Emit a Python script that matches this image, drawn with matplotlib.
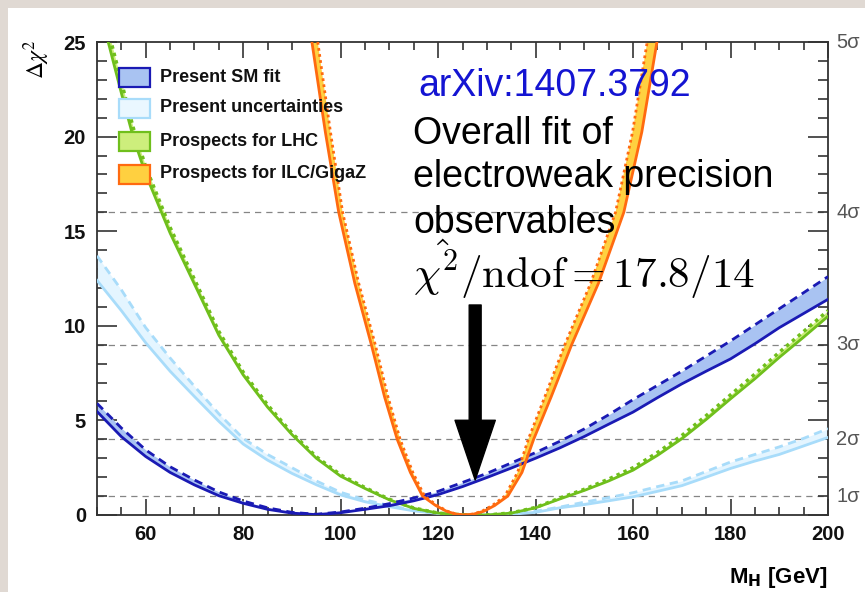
import numpy as np
import matplotlib.pyplot as plt
import matplotlib.transforms as mtransforms
from matplotlib.patches import Rectangle
from matplotlib.ticker import MultipleLocator

plt.rcParams['font.family'] = ['Liberation Sans', 'DejaVu Sans']

# ---- data ----
mh = [50, 55, 60, 65, 70, 75, 80, 85, 90, 95, 100, 105, 110, 115, 120, 125,
      130, 135, 140, 145, 150, 155, 160, 165, 170, 175, 180, 185, 190, 195, 200]

# Present SM fit (solid / dashed)
sm_fit = [5.47, 4.14, 3.09, 2.25, 1.59, 1.02, 0.62, 0.30, 0.10, 0.02, 0.12, 0.30,
          0.49, 0.75, 1.08, 1.50, 1.98, 2.48, 3.00, 3.55, 4.15, 4.80, 5.44, 6.20,
          6.93, 7.60, 8.25, 9.05, 9.90, 10.65, 11.40]
sm_fit_dash = [5.90, 4.60, 3.44, 2.55, 1.85, 1.22, 0.74, 0.38, 0.14, 0.04, 0.16, 0.36,
               0.60, 0.90, 1.25, 1.72, 2.20, 2.75, 3.30, 3.90, 4.55, 5.30, 6.10, 6.85,
               7.60, 8.40, 9.20, 10.05, 10.90, 11.75, 12.60]

# Present uncertainties
unc = [12.4, 10.8, 9.1, 7.6, 6.26, 4.95, 3.75, 2.9, 2.2, 1.6, 1.06, 0.7, 0.44, 0.22,
       0.08, 0.01, 0.0, 0.04, 0.14, 0.38, 0.55, 0.75, 0.96, 1.25, 1.55, 2.0, 2.46,
       2.85, 3.2, 3.65, 4.1]
unc_dash = [13.7, 11.9, 9.9, 8.3, 6.8, 5.35, 4.05, 3.2, 2.5, 1.8, 1.2, 0.8, 0.5, 0.25,
            0.09, 0.01, 0.0, 0.06, 0.2, 0.42, 0.68, 0.92, 1.18, 1.5, 1.8, 2.3, 2.8,
            3.2, 3.6, 4.05, 4.56]

# Prospects for LHC
lhc_x = [52.3, 55, 57.4, 60, 65, 70, 75, 80, 85, 90, 95, 100, 105, 110, 115, 120, 125,
         130, 135, 140, 145, 150, 155, 160, 165, 170, 175, 180, 185, 190, 195, 200]
lhc = [25.0, 22.3, 20.0, 18.0, 14.9, 12.2, 9.5, 7.4, 5.7, 4.25, 3.0, 2.05, 1.4, 0.8,
       0.35, 0.1, 0.01, 0.0, 0.1, 0.38, 0.85, 1.3, 1.8, 2.37, 3.15, 4.03, 5.05, 6.14,
       7.2, 8.33, 9.4, 10.5]
lhc_dot = [25.6, 22.9, 20.5, 18.4, 15.2, 12.45, 9.7, 7.55, 5.82, 4.33, 3.08, 2.12, 1.45,
           0.83, 0.37, 0.1, 0.01, 0.0, 0.11, 0.4, 0.9, 1.36, 1.9, 2.5, 3.3, 4.2, 5.25,
           6.35, 7.45, 8.6, 9.7, 10.8]

# Prospects for ILC/GigaZ (points along the curve)
ilc_y = [25, 20.25, 16, 12.25, 9, 6.25, 4, 2.25, 1, 0.5, 0.2, 0.05, 0,
         0.05, 0.2, 0.5, 1, 2.25, 4, 6.25, 9, 12.25, 16, 20.25, 25]
ilc_x = [94.1, 96.85, 99.6, 102.9, 106.3, 109.0, 111.6, 114.3, 116.8, 119.5, 121.7,
         123.6, 125.4, 127.3, 129.4, 131.6, 134.3, 137.2, 139.6, 143.2, 147.4, 152.9,
         158.1, 161.8, 164.9]
ilc_dot_x = [95.3, 97.9, 100.4, 103.7, 107.1, 109.7, 112.2, 114.8, 117.2, 119.8, 121.9,
             123.7, 125.4, 127.2, 129.0, 131.1, 133.7, 136.3, 138.5, 141.9, 146.0, 151.3,
             156.4, 159.9, 162.9]

sigma_levels = [1, 4, 9, 16, 25]
sigma_labels = ['1σ', '2σ', '3σ', '4σ', '5σ']

legend_labels = ['Present SM fit', 'Present uncertainties',
                 'Prospects for LHC', 'Prospects for ILC/GigaZ']

# colours
blue, blue_fill = '#1a1ab4', '#a9c3f2'
lblue, lblue_fill = '#a8dcfa', '#e4f5ff'
green, green_fill = '#6fbf1c', '#cdee7c'
orange, orange_fill = '#ff6a10', '#ffd040'

W, H = 865, 592
fig = plt.figure(figsize=(W / 100, H / 100), dpi=100, facecolor='#e0d9d3')
fig.add_artist(Rectangle((8 / W, 0), 1, 1 - 8 / H, transform=fig.transFigure,
                         facecolor='white', edgecolor='none', zorder=-5))

ax = fig.add_axes([97 / W, 1 - 515 / H, 731 / W, 473 / H])
ax.set_facecolor('white')

for lv in sigma_levels[:-1]:
    ax.axhline(lv, color='#858585', ls=(0, (5, 4)), lw=0.9, zorder=1)

# bands
ax.fill_between(mh, unc, unc_dash, color=lblue_fill, lw=0, zorder=2)
ax.fill_between(mh, sm_fit, sm_fit_dash, color=blue_fill, lw=0, zorder=2)
ax.fill_between(lhc_x, lhc, lhc_dot, color=green_fill, lw=0, zorder=2)
ax.fill(ilc_x + ilc_dot_x[::-1], ilc_y + ilc_y[::-1], color=orange_fill, lw=0, zorder=2)

# lines
ax.plot(mh, unc, color=lblue, lw=2, zorder=3)
ax.plot(mh, unc_dash, color=lblue, lw=2, ls=(0, (3, 2)), zorder=3)
ax.plot(lhc_x, lhc, color=green, lw=2, zorder=3)
ax.plot(lhc_x, lhc_dot, color=green, lw=2.5, ls=(0, (1, 1.2)), zorder=3)
ax.plot(mh, sm_fit, color=blue, lw=2, zorder=4)
ax.plot(mh, sm_fit_dash, color=blue, lw=2, ls=(0, (3, 2)), zorder=4)
ax.plot(ilc_x, ilc_y, color=orange, lw=2, zorder=5)
ax.plot(ilc_dot_x, ilc_y, color=orange, lw=2, ls=(0, (1, 1.2)), zorder=5)

ax.set_xlim(50, 200)
ax.set_ylim(0, 25)
ax.set_xticks(range(60, 201, 20))
ax.xaxis.set_minor_locator(MultipleLocator(5))
ax.set_yticks(range(0, 26, 5))
ax.yaxis.set_minor_locator(MultipleLocator(1))
ax.tick_params(which='both', direction='in', top=True, right=True,
               width=1.2, color='#333333', labelsize=14.5, labelcolor='#111111')
ax.tick_params(axis='x', which='major', length=11.5, pad=7)
ax.tick_params(axis='x', which='minor', length=5.8)
ax.tick_params(axis='y', which='major', length=14.4, pad=8)
ax.tick_params(axis='y', which='minor', length=7.2)
for lbl in ax.get_xticklabels() + ax.get_yticklabels():
    lbl.set_fontweight('bold')
for sp in ax.spines.values():
    sp.set_linewidth(1.3)
    sp.set_color('#333333')

# sigma labels on the right
trans = mtransforms.blended_transform_factory(ax.transAxes, ax.transData)
for lv, lab in zip(sigma_levels, sigma_labels):
    ax.text(1.011, lv, lab, transform=trans, va='center', ha='left',
            fontsize=14.5, color='#555555')

# legend drawn by hand
leg_faces = [blue_fill, '#eaf7ff', green_fill, orange_fill]
leg_edges = [blue, lblue, green, orange]
leg_rows = [77, 108, 141, 174]
for py, lab, fc, ec in zip(leg_rows, legend_labels, leg_faces, leg_edges):
    ax.add_patch(Rectangle(((119 - 97) / 731, (515 - py - 9.5) / 473), 31 / 731, 19 / 473,
                           transform=ax.transAxes, facecolor=fc, edgecolor=ec,
                           lw=1.6, zorder=6))
    ax.text((160 - 97) / 731, (515 - py) / 473, lab, transform=ax.transAxes,
            va='center', ha='left', fontsize=13, fontweight='bold',
            color='#111111', zorder=6)

# arrow
ax.annotate('', xy=(127.6, 1.85), xytext=(127.6, 11.1),
            arrowprops=dict(facecolor='black', edgecolor='black', width=8.6,
                            headwidth=29, headlength=43, shrink=0), zorder=7)

# annotations
fig.text(418 / W, 1 - 96 / H, 'arXiv:1407.3792', color='#1414d2', fontsize=27,
         va='baseline', ha='left')
fig.text(413 / W, 1 - 144 / H, 'Overall fit of', fontsize=27, va='baseline')
fig.text(413 / W, 1 - 187 / H, 'electroweak precision', fontsize=27, va='baseline')
fig.text(413 / W, 1 - 233 / H, 'observables', fontsize=27, va='baseline')
fig.text(413 / W, 1 - 288 / H, r'$\hat{\chi^2}/\mathrm{ndof} = 17.8/14$',
         fontsize=31, va='baseline', math_fontfamily='cm')

# axis titles
fig.text(37 / W, 1 - 40 / H, r'$\Delta\chi^2$', rotation=90, va='top', ha='center',
         fontsize=17, math_fontfamily='stix')
fig.text(828 / W, 1 - 577 / H, r'M$_\mathbf{H}$ [GeV]', ha='right', va='center',
         fontsize=16, fontweight='bold', math_fontfamily='dejavusans')

fig.savefig('out.png', dpi=100, facecolor=fig.get_facecolor())
